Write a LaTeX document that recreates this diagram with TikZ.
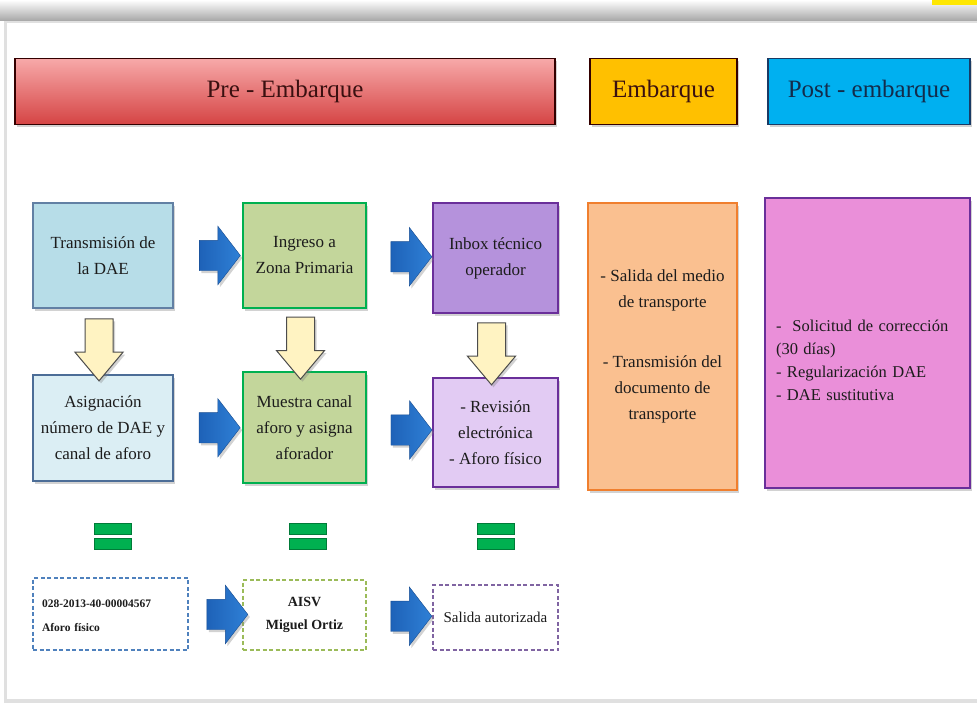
\documentclass[tikz,border=0pt]{standalone}
\usepackage{fontspec}
\setmainfont{Liberation Serif}
\usetikzlibrary{positioning,shapes.arrows,shadows,calc}

\definecolor{hdrtop}{HTML}{F7A9A9}
\definecolor{hdrbot}{HTML}{D54444}
\definecolor{embyel}{HTML}{FFC000}
\definecolor{postcyan}{HTML}{00B0F0}
\definecolor{navy}{HTML}{1F497D}
\definecolor{lblue}{HTML}{B7DDE8}
\definecolor{llblue}{HTML}{DBEEF4}
\definecolor{olive}{HTML}{C3D69B}
\definecolor{dgreen}{HTML}{00B050}
\definecolor{mpurple}{HTML}{B592DC}
\definecolor{lpurple}{HTML}{E2CBF3}
\definecolor{dpurple}{HTML}{6A2F9A}
\definecolor{peach}{HTML}{FAC090}
\definecolor{dorange}{HTML}{F07F2E}
\definecolor{pink}{HTML}{EA8FD9}
\definecolor{arrblue}{HTML}{1E62B8}
\definecolor{arrblue2}{HTML}{2F80D6}
\definecolor{paleyel}{HTML}{FFF3C2}
\definecolor{dashblue}{HTML}{4F81BD}
\definecolor{dashgreen}{HTML}{9BBB59}
\definecolor{dashpurple}{HTML}{8064A2}
\definecolor{ink}{HTML}{1C1C1C}
\definecolor{hdrink}{HTML}{3A1010}

\begin{document}
\begin{tikzpicture}[x=1pt, y=-1pt, font=\fontsize{17}{26}\selectfont, text=ink,
  shad/.style={drop shadow={opacity=0.35, shadow xshift=2pt, shadow yshift=-2.5pt}},
  hdr/.style={draw=black!80!red, line width=1.2pt, shad, minimum height=66pt, text=hdrink, font=\fontsize{25}{28}\selectfont},
  stepbox/.style={draw, line width=1.4pt, shad, align=center, inner sep=2pt},
  dashbox/.style={draw, dashed, dash pattern=on 4pt off 2.5pt, line width=1.3pt, fill=white, align=center},
  bluearrow/.style={single arrow, inner xsep=0pt, inner ysep=15pt, single arrow head extend=14pt,
    single arrow tip angle=105, minimum height=41pt, left color=arrblue, right color=arrblue2, draw=arrblue!80!black, line width=0.4pt, shad},
  yelarrow/.style={single arrow, shape border rotate=270, inner sep=13.5pt, single arrow head extend=10pt,
    single arrow tip angle=80, minimum height=62pt, fill=paleyel, draw=black!70, line width=1pt, shad}]
\useasboundingbox (0,0) rectangle (977,709);
% backdrop: slide panel with its shadow band
\shade[top color=white, bottom color=black!35] (0,0) rectangle (977,21);
\fill[yellow!90!orange] (932,0) rectangle (977,5);
\fill[black!12] (4,21) rectangle (977,703);
\fill[white] (7,23) rectangle (977,699);
% phase headers
\node[hdr, top color=hdrtop, bottom color=hdrbot, minimum width=540pt] (pre) at (285,91.5) {Pre - Embarque};
\node[hdr, fill=embyel, minimum width=147pt] (emb) at (663.5,91.5) {Embarque};
\node[hdr, fill=postcyan, draw=navy!80!black, text=navy!60!black, minimum width=202pt] (post) at (869,91.5) {Post - embarque};
% pre-embarque steps
\node[stepbox, fill=lblue, draw=navy!70, minimum width=140pt, minimum height=105pt] (t1) at (103,255.5) {Transmisión de\\la DAE};
\node[stepbox, fill=olive, draw=dgreen, minimum width=123pt, minimum height=105pt] (t2) at (304.5,255.5) {Ingreso a\\Zona Primaria};
\node[stepbox, fill=mpurple, draw=dpurple, minimum width=125pt, minimum height=110pt] (t3) at (495.5,258) {Inbox técnico\\operador};
\node[stepbox, fill=llblue, draw=navy!80, minimum width=140pt, minimum height=106pt] (a1) at (103,428) {Asignación\\número de DAE y\\canal de aforo};
\node[stepbox, fill=olive, draw=dgreen, line width=2pt, minimum width=123pt, minimum height=111pt] (a2) at (304.5,427.5) {Muestra canal\\aforo y asigna\\aforador};
\node[stepbox, fill=lpurple, draw=dpurple, minimum width=125pt, minimum height=109pt] (a3) at (495.5,432.5) {- Revisión\\electrónica\\- Aforo físico};
% embarque / post-embarque
\node[stepbox, fill=peach, draw=dorange, line width=2pt, minimum width=149pt, minimum height=287pt] (embbody) at (662.5,346.5) {- Salida del medio\\de transporte\\[34pt]- Transmisión del\\documento de\\transporte};
\node[stepbox, fill=pink, draw=dpurple, line width=1.6pt, minimum width=205pt, minimum height=290pt] (postbody) at (867.5,343) {};
\node[text width=186pt, align=left, font=\fontsize{16.5}{23}\selectfont] (posttext) at (869,360)
  {\makebox[186pt][s]{- \ Solicitud de corrección}\\(30 días)\\- Regularización DAE\\- DAE sustitutiva};
% results
\node[dashbox, draw=dashblue, minimum width=155pt, minimum height=72pt] (d1) at (110.5,614) {};
\node[text width=140pt, align=left, font=\fontsize{11.5}{24}\selectfont\bfseries] (d1text) at (112,616) {028-2013-40-00004567\\Aforo físico};
\node[dashbox, draw=dashgreen, minimum width=123pt, minimum height=70pt, font=\fontsize{14}{23}\selectfont\bfseries] (d2) at (304.5,615) {AISV\\Miguel Ortiz};
\node[dashbox, draw=dashpurple, minimum width=125pt, minimum height=65pt, font=\fontsize{15}{17}\selectfont] (d3) at (495.5,617.5) {Salida autorizada};
% equals signs
\foreach \x in {113,308,496}
  { \fill[dgreen, draw=dgreen!70!black, line width=0.4pt] (\x-18.5,523) rectangle (\x+18.5,534);
    \fill[dgreen, draw=dgreen!70!black, line width=0.4pt] (\x-18.5,538) rectangle (\x+18.5,549); }
% block arrows
\foreach \a/\b in {t1/t2,t2/t3,a1/a2,a2/a3,d1/d2,d2/d3}
  \node[bluearrow] (\a\b) at ($(\a.east)!0.5!(\b.west)+(6,0)$) {};
\foreach \a/\b in {t1/a1,t2/a2,t3/a3}
  \node[yelarrow] (\a\b) at ($(\a.south)!0.5!(\b.north)+(-4,0)$) {};
\end{tikzpicture}
\end{document}
